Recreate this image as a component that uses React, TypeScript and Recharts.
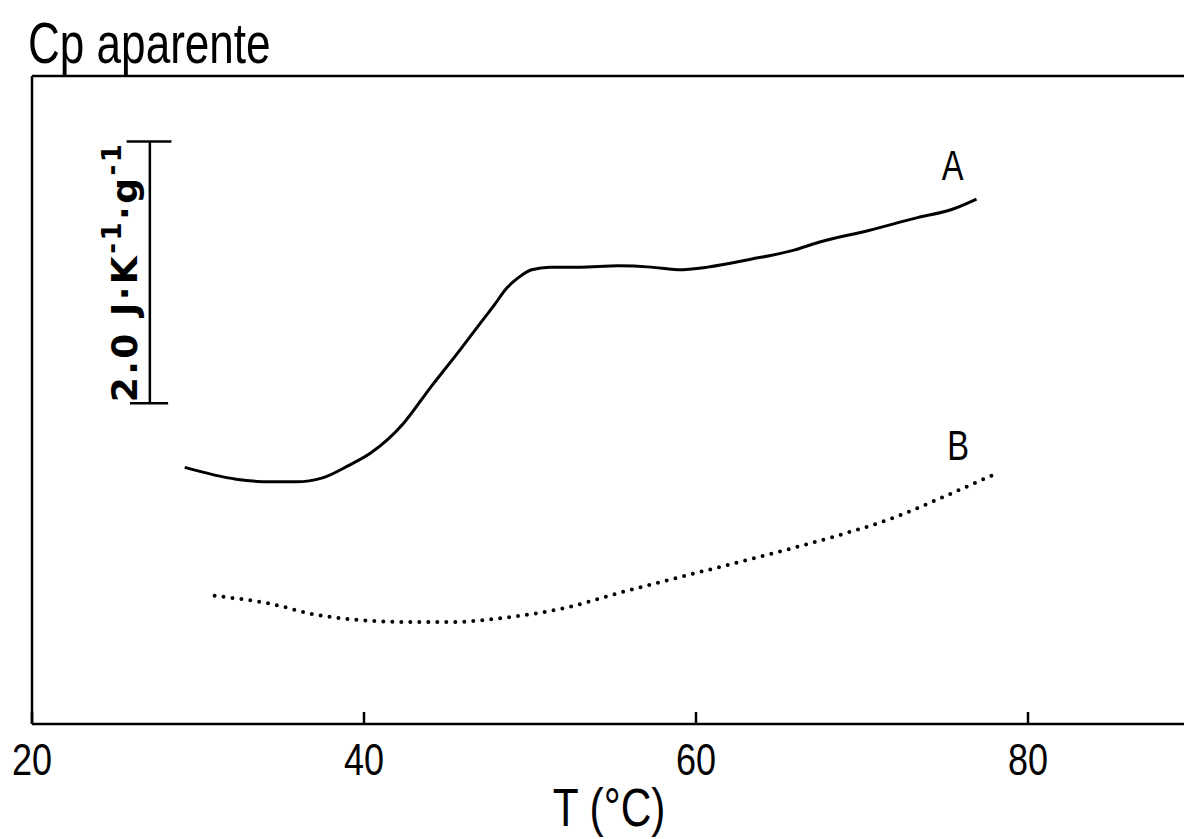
import React from "react"
import { Line, LineChart, ReferenceLine, XAxis, YAxis } from "recharts"

// curve A (solid)
const tempA = [29.2, 32.3, 34.3, 35.9, 37.5, 39.0, 40.4, 41.4, 42.4, 44.0, 45.8, 47.0, 47.9, 48.6, 49.3, 50.1, 51.2, 53.0, 55.3, 57.3, 58.9, 60.7, 63.3, 65.9, 67.4, 70.4, 73.4, 75.4, 76.9]
const cpA = [1.96, 1.87, 1.85, 1.85, 1.88, 1.97, 2.07, 2.17, 2.3, 2.57, 2.86, 3.06, 3.21, 3.33, 3.41, 3.47, 3.49, 3.49, 3.5, 3.49, 3.47, 3.49, 3.55, 3.62, 3.68, 3.77, 3.87, 3.93, 4.01]

// curve B (dotted)
const tempB = [31.0, 34.3, 37.3, 42.4, 45.4, 48.4, 52.2, 55.9, 59.9, 63.9, 68.0, 72.0, 75.0, 78.2]
const cpB = [0.98, 0.92, 0.83, 0.78, 0.78, 0.81, 0.89, 1.02, 1.15, 1.28, 1.42, 1.58, 1.74, 1.92]

const xTicks = [20, 40, 60, 80]
const xDomain = [20, 90]
const yDomain = [0, 4.95]

// 2.0 J/K/g scale bar
const barT = 27.1
const barBottom = 2.45
const barSize = 2.0

const dataA = tempA.map((t, i) => ({ t, cp: cpA[i] }))
const dataB = tempB.map((t, i) => ({ t, cp: cpB[i] }))

const font = "'Liberation Sans', Arial, sans-serif"

// the original lettering is a thin condensed face, so squeeze it horizontally
const NarrowText = ({ x, y, size, sx = 0.78, children }: any) => (
  <text
    transform={`translate(${x} ${y}) scale(${sx} 1)`}
    textAnchor="middle"
    fontFamily={font}
    fontSize={size}
    fill="#000"
  >
    {children}
  </text>
)

const Tick = ({ x, y, payload }: any) => (
  <g>
    <line x1={x} x2={x} y1={y} y2={y + 12} stroke="#000" strokeWidth={2.5} />
    <NarrowText x={x} y={y + 63} size={45} sx={0.8}>
      {payload.value}
    </NarrowText>
  </g>
)

const endLabel = (name: string, dx: number, dy: number, last: number) => (props: any) => {
  if (props.index !== last) return null
  return (
    <NarrowText x={props.x + dx} y={props.y + dy} size={43} sx={0.76}>
      {name}
    </NarrowText>
  )
}

const BarLabel = ({ viewBox }: any) => {
  const x = viewBox.x - 13
  const y = viewBox.y + viewBox.height - 1
  return (
    <text
      x={x}
      y={y}
      transform={`rotate(-90 ${x} ${y})`}
      fontFamily="'DejaVu Sans', sans-serif"
      fontWeight="bold"
      fontSize={36}
      fill="#000"
      textLength={258}
      lengthAdjust="spacing"
    >
      2.0 J·K
      <tspan fontSize={26} dy={-16}>-1</tspan>
      <tspan dy={16}>·g</tspan>
      <tspan fontSize={26} dy={-16}>-1</tspan>
    </text>
  )
}

const AxisTitle = ({ viewBox }: any) => (
  <NarrowText x={viewBox.x + viewBox.width / 2 - 4} y={viewBox.y + 102} size={53} sx={0.8}>
    T (°C)
  </NarrowText>
)

export default function App() {
  return (
    <div style={{ position: "absolute", left: 0, top: 0, width: 1184, height: 839, overflow: "hidden", background: "#fff" }}>
      <div
        style={{
          position: "absolute",
          left: 28,
          top: 14,
          fontFamily: font,
          fontSize: 58,
          lineHeight: "58px",
          color: "#000",
          whiteSpace: "nowrap",
          transform: "scaleX(0.76)",
          transformOrigin: "left top",
        }}
      >
        Cp aparente
      </div>
      <LineChart width={1200} height={839} margin={{ top: 76, right: 6, left: 32, bottom: 55 }}>
        <XAxis
          type="number"
          dataKey="t"
          domain={xDomain}
          ticks={xTicks}
          allowDataOverflow
          height={60}
          stroke="#000"
          strokeWidth={2.5}
          tickLine={false}
          tickSize={-12}
          tickMargin={0}
          tick={<Tick />}
          label={<AxisTitle />}
        />
        <YAxis type="number" domain={yDomain} allowDataOverflow hide />
        <ReferenceLine y={yDomain[1]} stroke="#000" strokeWidth={2.5} />
        <ReferenceLine x={xDomain[0]} stroke="#000" strokeWidth={2.5} />
        <ReferenceLine
          segment={[
            { x: barT, y: barBottom },
            { x: barT, y: barBottom + barSize },
          ]}
          stroke="#000"
          strokeWidth={2.5}
          label={<BarLabel />}
        />
        <ReferenceLine
          segment={[
            { x: barT - 1.4, y: barBottom + barSize },
            { x: barT + 1.3, y: barBottom + barSize },
          ]}
          stroke="#000"
          strokeWidth={2.5}
        />
        <ReferenceLine
          segment={[
            { x: barT - 1.2, y: barBottom },
            { x: barT + 1.1, y: barBottom },
          ]}
          stroke="#000"
          strokeWidth={2.5}
        />
        <Line
          data={dataA}
          dataKey="cp"
          type="monotone"
          stroke="#000"
          strokeWidth={3}
          dot={false}
          isAnimationActive={false}
          label={endLabel("A", -24, -19, dataA.length - 1)}
        />
        <Line
          data={dataB}
          dataKey="cp"
          type="monotone"
          stroke="#000"
          strokeWidth={4}
          strokeDasharray="0 9"
          strokeLinecap="round"
          dot={false}
          isAnimationActive={false}
          label={endLabel("B", -40, -13, dataB.length - 1)}
        />
      </LineChart>
    </div>
  )
}
